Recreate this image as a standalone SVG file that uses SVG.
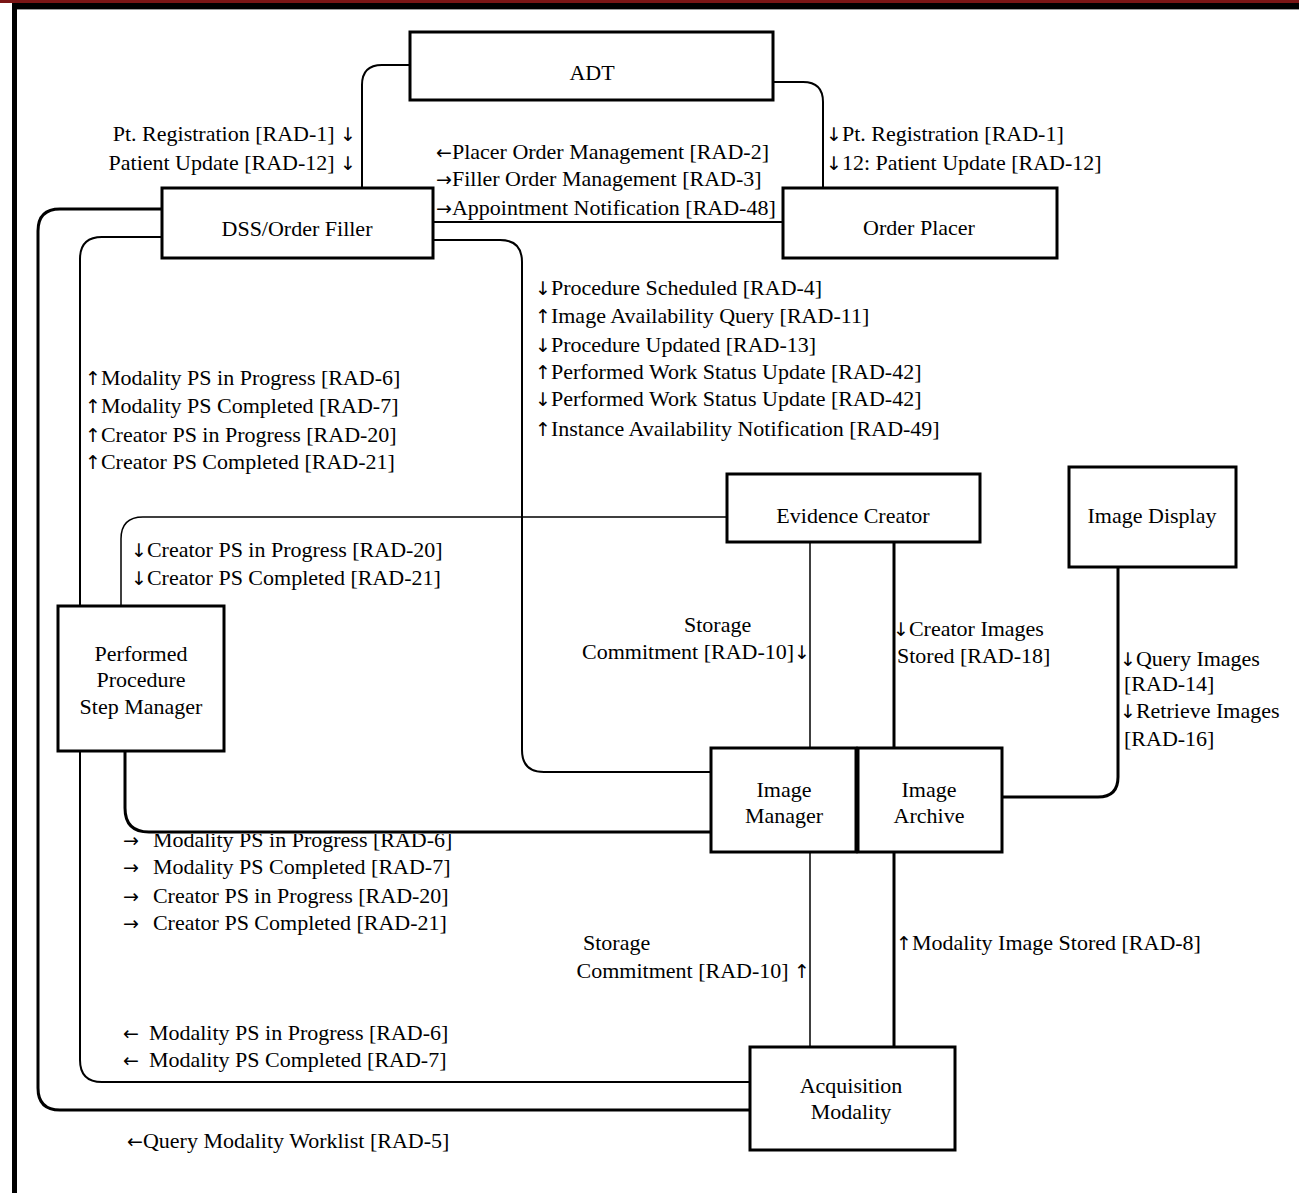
<svg xmlns="http://www.w3.org/2000/svg" width="1299" height="1193" viewBox="0 0 1299 1193">
  <style>
    .box { fill: #fff; stroke: #000; stroke-width: 3; }
    .lbl { font-family: "Liberation Serif", "Times New Roman", serif; font-size: 22px; fill: #000; }
    .ar { font-family: "DejaVu Sans", sans-serif; font-size: 19px; }
    .mid { text-anchor: middle; }
    .end { text-anchor: end; }
    .w1 { fill: none; stroke: #000; stroke-width: 1.5; }
    .w2 { fill: none; stroke: #000; stroke-width: 2; }
    .w3 { fill: none; stroke: #000; stroke-width: 3; }
  </style>
  <defs>
    <clipPath id="belowLine">
      <rect x="0" y="834" width="1299" height="359"/>
    </clipPath>
  </defs>

  <!-- page frame -->
  <rect x="0" y="0" width="1299" height="1193" fill="#fff"/>
  <rect x="0" y="0" width="1299" height="3" fill="#7a1515"/>
  <rect x="12" y="3" width="1287" height="6" fill="#000"/>
  <line x1="17" y1="9.5" x2="1299" y2="9.5" stroke="#999" stroke-width="1"/>
  <rect x="12" y="3" width="5" height="1190" fill="#000"/>

  <!-- connectors -->
  <g id="connectors">
    <path class="w2" d="M410,65 H382 Q362,65 362,85 V188"/>
    <path class="w2" d="M773,82 H803 Q823,82 823,102 V188"/>
    <path class="w2" d="M433,222 H783"/>
    <path class="w2" d="M433,240 H500 Q522,240 522,262 V750 Q522,772 544,772 H711"/>
    <path class="w1" d="M727,517 H143 Q121,517 121,539 V606"/>
    <path class="w3" d="M125,751 V808 Q125,832 149,832 H711"/>
    <path class="w2" d="M162,237 H102 Q80,237 80,259 V1060 Q80,1082 102,1082 H750"/>
    <path class="w3" d="M162,209 H60 Q38,209 38,231 V1088 Q38,1110 60,1110 H750"/>
    <path class="w1" d="M810,542 V748"/>
    <path class="w3" d="M894,542 V748"/>
    <path class="w1" d="M810,852 V1047"/>
    <path class="w3" d="M894,852 V1047"/>
    <path class="w3" d="M1118,567 V777 Q1118,797 1098,797 H1002"/>
  </g>

  <!-- actors -->
  <g id="adt">
    <rect class="box" x="410" y="32" width="363" height="68"/>
    <text class="lbl mid" x="592" y="80">ADT</text>
  </g>
  <g id="order-filler">
    <rect class="box" x="162" y="188" width="271" height="70"/>
    <text class="lbl mid" x="297" y="236">DSS/Order Filler</text>
  </g>
  <g id="order-placer">
    <rect class="box" x="783" y="188" width="274" height="70"/>
    <text class="lbl mid" x="919" y="235">Order Placer</text>
  </g>
  <g id="evidence-creator">
    <rect class="box" x="727" y="474" width="253" height="68"/>
    <text class="lbl mid" x="853" y="523">Evidence Creator</text>
  </g>
  <g id="image-display">
    <rect class="box" x="1069" y="467" width="167" height="100"/>
    <text class="lbl mid" x="1152" y="523">Image Display</text>
  </g>
  <g id="ppsm">
    <rect class="box" x="58" y="606" width="166" height="145"/>
    <text class="lbl mid" x="141" y="661">Performed</text>
    <text class="lbl mid" x="141" y="687">Procedure</text>
    <text class="lbl mid" x="141" y="714">Step Manager</text>
  </g>
  <g id="image-manager">
    <rect class="box" x="711" y="748" width="145" height="104"/>
    <text class="lbl mid" x="784" y="797">Image</text>
    <text class="lbl mid" x="784" y="823">Manager</text>
  </g>
  <g id="image-archive">
    <rect class="box" x="858" y="748" width="144" height="104"/>
    <text class="lbl mid" x="929" y="797">Image</text>
    <text class="lbl mid" x="929" y="823">Archive</text>
  </g>
  <g id="acquisition-modality">
    <rect class="box" x="750" y="1047" width="205" height="103"/>
    <text class="lbl mid" x="851" y="1093">Acquisition</text>
    <text class="lbl mid" x="851" y="1119">Modality</text>
  </g>

  <!-- transaction labels -->
  <g id="labels">
    <text class="lbl end" x="356" y="141">Pt. Registration [RAD-1] <tspan class="ar">↓</tspan></text>
    <text class="lbl end" x="356" y="170">Patient Update [RAD-12] <tspan class="ar">↓</tspan></text>

    <text class="lbl" x="826" y="141"><tspan class="ar">↓</tspan>Pt. Registration [RAD-1]</text>
    <text class="lbl" x="826" y="170"><tspan class="ar">↓</tspan>12: Patient Update [RAD-12]</text>

    <text class="lbl" x="436" y="159"><tspan class="ar">←</tspan>Placer Order Management [RAD-2]</text>
    <text class="lbl" x="436" y="186"><tspan class="ar">→</tspan>Filler Order Management [RAD-3]</text>
    <text class="lbl" x="436" y="215"><tspan class="ar">→</tspan>Appointment Notification [RAD-48]</text>

    <text class="lbl" x="535" y="295"><tspan class="ar">↓</tspan>Procedure Scheduled [RAD-4]</text>
    <text class="lbl" x="535" y="323"><tspan class="ar">↑</tspan>Image Availability Query [RAD-11]</text>
    <text class="lbl" x="535" y="352"><tspan class="ar">↓</tspan>Procedure Updated [RAD-13]</text>
    <text class="lbl" x="535" y="379"><tspan class="ar">↑</tspan>Performed Work Status Update [RAD-42]</text>
    <text class="lbl" x="535" y="406"><tspan class="ar">↓</tspan>Performed Work Status Update [RAD-42]</text>
    <text class="lbl" x="535" y="436"><tspan class="ar">↑</tspan>Instance Availability Notification [RAD-49]</text>

    <text class="lbl" x="85" y="385"><tspan class="ar">↑</tspan>Modality PS in Progress [RAD-6]</text>
    <text class="lbl" x="85" y="413"><tspan class="ar">↑</tspan>Modality PS Completed [RAD-7]</text>
    <text class="lbl" x="85" y="442"><tspan class="ar">↑</tspan>Creator PS in Progress [RAD-20]</text>
    <text class="lbl" x="85" y="469"><tspan class="ar">↑</tspan>Creator PS Completed [RAD-21]</text>

    <text class="lbl" x="131" y="557"><tspan class="ar">↓</tspan>Creator PS in Progress [RAD-20]</text>
    <text class="lbl" x="131" y="585"><tspan class="ar">↓</tspan>Creator PS Completed [RAD-21]</text>

    <text class="lbl" x="684" y="632">Storage</text>
    <text class="lbl end" x="810" y="659">Commitment [RAD-10]<tspan class="ar">↓</tspan></text>

    <text class="lbl" x="893" y="636"><tspan class="ar">↓</tspan>Creator Images</text>
    <text class="lbl" x="897" y="663">Stored [RAD-18]</text>

    <text class="lbl" x="1120" y="666"><tspan class="ar">↓</tspan>Query Images</text>
    <text class="lbl" x="1124" y="691">[RAD-14]</text>
    <text class="lbl" x="1120" y="718"><tspan class="ar">↓</tspan>Retrieve Images</text>
    <text class="lbl" x="1124" y="746">[RAD-16]</text>

    <text class="lbl" x="123" y="847" clip-path="url(#belowLine)"><tspan class="ar">→</tspan><tspan dx="14">Modality PS in Progress [RAD-6]</tspan></text>
    <text class="lbl" x="123" y="874"><tspan class="ar">→</tspan><tspan dx="14">Modality PS Completed [RAD-7]</tspan></text>
    <text class="lbl" x="123" y="903"><tspan class="ar">→</tspan><tspan dx="14">Creator PS in Progress [RAD-20]</tspan></text>
    <text class="lbl" x="123" y="930"><tspan class="ar">→</tspan><tspan dx="14">Creator PS Completed [RAD-21]</tspan></text>

    <text class="lbl" x="583" y="950">Storage</text>
    <text class="lbl end" x="810" y="978">Commitment [RAD-10] <tspan class="ar">↑</tspan></text>

    <text class="lbl" x="896" y="950"><tspan class="ar">↑</tspan>Modality Image Stored [RAD-8]</text>

    <text class="lbl" x="123" y="1040"><tspan class="ar">←</tspan><tspan dx="10">Modality PS in Progress [RAD-6]</tspan></text>
    <text class="lbl" x="123" y="1067"><tspan class="ar">←</tspan><tspan dx="10">Modality PS Completed [RAD-7]</tspan></text>

    <text class="lbl" x="127" y="1148"><tspan class="ar">←</tspan>Query Modality Worklist [RAD-5]</text>
  </g>
</svg>
